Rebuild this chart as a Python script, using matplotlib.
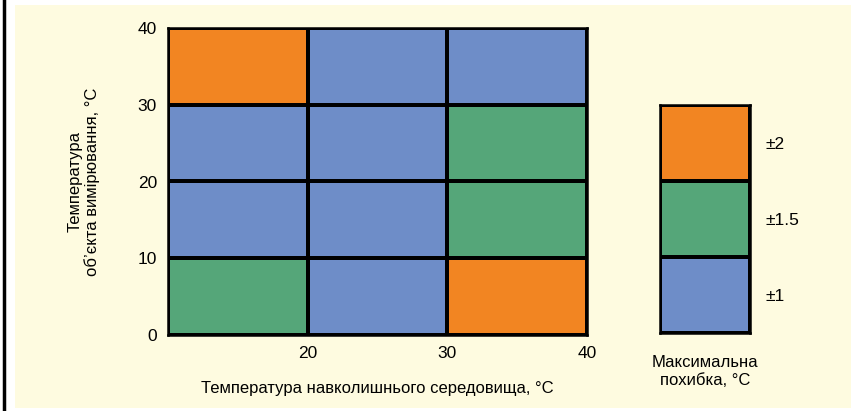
import matplotlib
matplotlib.use("Agg")
import matplotlib.pyplot as plt
from matplotlib.colors import ListedColormap, BoundaryNorm
from matplotlib.patches import Rectangle
import numpy as np

plt.rcParams['font.family'] = ['Liberation Sans', 'DejaVu Sans']

# Cell edges
ambient_edges = [10, 20, 30, 40]          # temperature of surroundings, °C
object_edges = [0, 10, 20, 30, 40]        # temperature of measured object, °C

# Maximum error per cell (rows: object temp 0-10 ... 30-40; cols: ambient 10-20 ... 30-40)
max_error = [
    [1.5, 1.0, 2.0],
    [1.0, 1.0, 1.5],
    [1.0, 1.0, 1.5],
    [2.0, 1.0, 1.0],
]

x_ticks = [20, 30, 40]
y_ticks = [0, 10, 20, 30, 40]

legend_levels = [1.0, 1.5, 2.0]
legend_labels = ['±1', '±1.5', '±2']

level_colors = ['#6E8DC8', '#55A679', '#F28522']
bg = '#FEFBE0'

cmap = ListedColormap(level_colors)
norm = BoundaryNorm([0.75, 1.25, 1.75, 2.25], cmap.N)

fig = plt.figure(figsize=(8.56, 4.11), dpi=100)
fig.patch.set_facecolor('white')
# cream panel and left rule
fig.add_artist(Rectangle((15 / 856, 1 - 408 / 411), (851 - 15) / 856, (408 - 5) / 411,
                         transform=fig.transFigure, facecolor=bg, edgecolor='none', zorder=0))
fig.add_artist(plt.Line2D([4 / 856, 4 / 856], [0, 1], transform=fig.transFigure,
                          color='black', lw=2.5, zorder=1))

ax = fig.add_axes([168 / 856, 1 - 335 / 411, (587 - 168) / 856, (335 - 28) / 411])
ax.pcolormesh(ambient_edges, object_edges, np.array(max_error), cmap=cmap, norm=norm,
              edgecolors='black', linewidth=1.5)
ax.set_xlim(10, 40)
ax.set_ylim(0, 40)
ax.set_xticks(x_ticks)
ax.set_yticks(y_ticks)
ax.tick_params(length=0, labelsize=12.5, pad=8)
for s in ax.spines.values():
    s.set_linewidth(1.8)
ax.set_xlabel('Температура навколишнього середовища, °С', fontsize=12, labelpad=14)
ax.set_ylabel('Температура\nоб’єкта вимірювання, °С', fontsize=12, labelpad=27,
              linespacing=1.15)

# colour key
lax = fig.add_axes([660 / 856, 1 - 333 / 411, 90 / 856, 228 / 411])
lax.pcolormesh([0, 1], [0, 1, 2, 3], np.array(legend_levels).reshape(3, 1), cmap=cmap,
               norm=norm, edgecolors='black', linewidth=1.5)
lax.set_xlim(0, 1)
lax.set_ylim(0, 3)
lax.set_xticks([])
lax.yaxis.tick_right()
lax.set_yticks([0.5, 1.5, 2.5])
lax.set_yticklabels(legend_labels)
lax.tick_params(length=0, labelsize=12.5, pad=11)
for s in lax.spines.values():
    s.set_linewidth(1.8)
lax.set_xlabel('Максимальна\nпохибка, °С', fontsize=12, labelpad=16, linespacing=1.2)

fig.savefig('out.png', dpi=100, facecolor=fig.get_facecolor())
